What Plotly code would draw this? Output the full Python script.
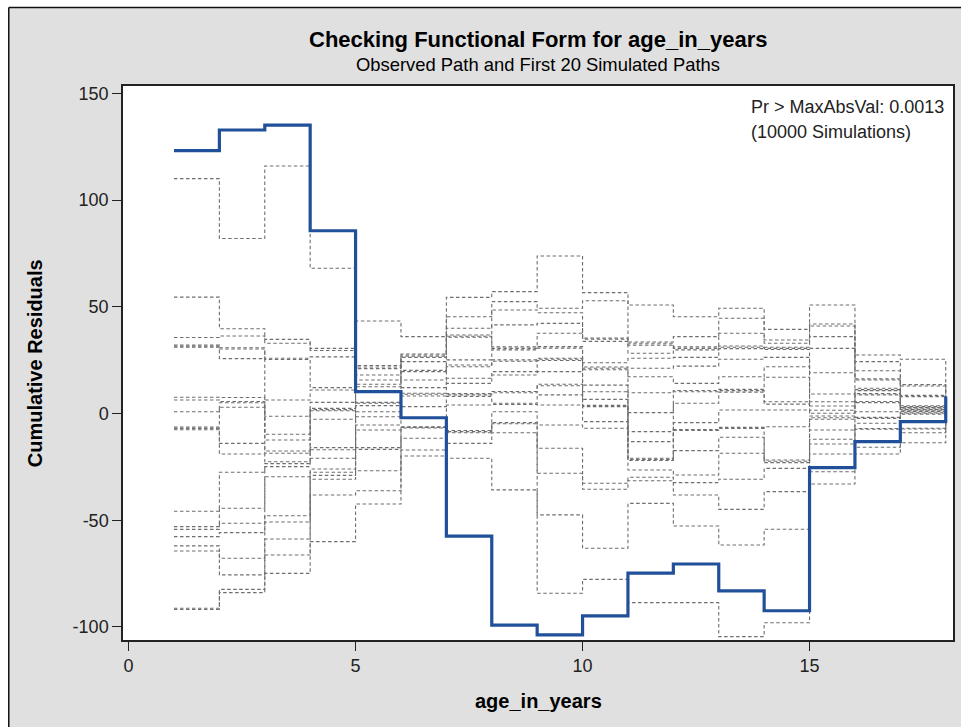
import plotly.graph_objects as go

# ---------------- data ----------------
ages = [1, 2, 3, 4, 5, 6, 7, 8, 9, 10, 11, 12, 13, 14, 15, 16, 17, 18]
observed_path = [123.1, 132.8, 135.1, 85.6, 10.2, -2.0, -57.4, -99.1, -103.7, -94.8,
                 -74.8, -70.5, -83.1, -92.4, -25.4, -13.2, -3.8, 7.9]

# levels of the 20 simulated paths at each age (highest to lowest)
sim_at_age_01 = [110, 54.5, 35.6, 32, 31.5, 31, 7.6, 6.3, 0.8, -6.4, -7, -7.6, -45.8, -53, -54.3, -57.7, -62, -64.4, -91.2, -91.8]
sim_at_age_02 = [82, 39.7, 36.3, 30.8, 30.2, 25.7, 7.5, 5.6, 5.0, 2.9, -14, -19, -27.5, -44.4, -51.4, -55.8, -67.8, -75.6, -82.4, -83.9]
sim_at_age_03 = [115.9, 34.7, 32.9, 25.9, 25.3, 6.3, -1.3, -9.7, -12.4, -17.6, -18.6, -22.6, -23.5, -24.9, -29.6, -47.9, -50.8, -58.8, -66.3, -74.9]
sim_at_age_04 = [68, 30.5, 29.5, 26.5, 12.1, 11, 5.2, 2.4, 1.8, 1.3, -2.7, -16, -17, -21, -26, -27.5, -29, -30.8, -38.2, -60]
sim_at_age_05 = [43.3, 22.5, 21.8, 21, 18, 15.7, 13.7, 12.5, 5.2, 4.8, 3.7, 0.8, -1.5, -5.4, -7.7, -16, -16.8, -26.8, -36.2, -42.4]
sim_at_age_06 = [36, 27.9, 27.4, 26.8, 26.3, 24.3, 20.2, 19.6, 15.7, 12.1, 9.5, 9.0, 8.2, 3.2, -6.2, -6.5, -6.8, -11.6, -17.1, -19.9]
sim_at_age_07 = [54.4, 45.3, 39.9, 36.8, 36.2, 35.7, 25.1, 22.7, 21.9, 16.5, 14.1, 9.3, 8.7, 8.0, 4, -8.0, -8.5, -9.0, -14, -21]
sim_at_age_08 = [57.1, 52.4, 48.5, 41.5, 31.2, 30.5, 29.8, 25.1, 24.5, 19.6, 18, 10.3, 9.7, 4.8, 4.2, 0.8, -4.3, -4.8, -9, -35.8]
sim_at_age_09 = [73.8, 49.3, 47.2, 42.2, 37.6, 31.3, 30.6, 25.9, 25.4, 24.8, 19.6, 13.7, 13, 8.7, 4, -5.4, -16.3, -28, -47.5, -84.2]
sim_at_age_10 = [56.6, 52.8, 35.3, 34.8, 33.8, 23.8, 21.8, 21.2, 20.5, 13.3, 10.2, 6.6, 3.8, 3.2, -3.8, -6.9, -32.7, -35.5, -63.1, -77.7]
sim_at_age_11 = [50.8, 33.5, 32.9, 32, 28.2, 25.9, 21.2, 17.2, 9.7, 0.4, -8.5, -13.2, -21, -21.5, -22, -26.5, -29.9, -31.5, -42.1, -88.6]
sim_at_age_12 = [45.3, 36, 31.2, 30.5, 29.8, 26.3, 22.2, 14.1, 10.8, 10.2, 4.8, -4.3, -7.5, -8, -17.4, -28.8, -32.4, -38.2, -52.7, -88.6]
sim_at_age_13 = [49.3, 44.6, 37.6, 31.6, 31, 30.4, 25.4, 17.2, 11.3, 10.7, 10, 1.6, -6.5, -7, -11.1, -18.6, -30.8, -44.9, -61.6, -104.5]
sim_at_age_14 = [39.4, 34.4, 32.9, 31, 30.5, 30, 26.3, 21.9, 17, 5.5, 4.4, 1.6, -6.2, -21.8, -22.4, -23, -25.7, -36.6, -54.2, -98]
sim_at_age_15 = [50.8, 41.9, 41, 36, 30.5, 19.1, 9.1, 5.5, 3.5, 1.5, 0.1, -1.2, -2.0, -2.7, -7.7, -12.1, -14.3, -19, -27.3, -33]
sim_at_age_16 = [27.4, 24.3, 20, 16.2, 15.7, 11.8, 11.2, 10.7, 9.3, 8.7, 5.6, 5.1, 0.8, -1.8, -2.3, -4.6, -7.0, -7.4, -15.8, -19]
sim_at_age_17 = [25.4, 13.5, 12.9, 8.5, 7.9, 3.6, 3.2, 2.8, 2.5, 2, 1.8, 1.5, 1, 0.6, 0.1, -0.3, -6.9, -7.3, -9, -13.7]
sim_at_age_18 = [9, 7, 6, 5, 5, 4, 4, 3, 3, 2, 2, 2, 1, 1, 0, 0, -1, -2, -3, -5]

x_ticks = [0, 5, 10, 15]
y_ticks = [-100, -50, 0, 50, 100, 150]

title_text = "Checking Functional Form for age_in_years"
subtitle_text = "Observed Path and First 20 Simulated Paths"
x_title = "age_in_years"
y_title = "Cumulative Residuals"
pvalue_line1 = "Pr > MaxAbsVal: 0.0013"
pvalue_line2 = "(10000 Simulations)"

# ---------------- figure ----------------
W, H = 961, 727
L, R, T, B = 123, 6, 86, 87
PW, PH = W - L - R, H - T - B


def px_x(px):
    return (px - L) / PW


def px_y(py):
    return (H - B - py) / PH


FONT = "Arial, 'Liberation Sans', Helvetica, sans-serif"

levels = [sim_at_age_01, sim_at_age_02, sim_at_age_03, sim_at_age_04, sim_at_age_05,
          sim_at_age_06, sim_at_age_07, sim_at_age_08, sim_at_age_09, sim_at_age_10,
          sim_at_age_11, sim_at_age_12, sim_at_age_13, sim_at_age_14, sim_at_age_15,
          sim_at_age_16, sim_at_age_17, sim_at_age_18]

fig = go.Figure()
for i in range(20):
    path = [lv[i] for lv in levels]
    fig.add_trace(go.Scatter(
        x=ages, y=path, mode="lines", line_shape="hv",
        line=dict(color="#6e6e6e", width=1.1, dash="3.5px,2.5px"),
        hoverinfo="skip", showlegend=False))

fig.add_trace(go.Scatter(
    x=ages, y=observed_path, mode="lines", line_shape="hv",
    line=dict(color="#21509a", width=3.2), showlegend=False, name="Observed"))

fig.update_layout(
    width=W, height=H,
    margin=dict(l=L, r=R, t=T, b=B, pad=0),
    paper_bgcolor="#e0e0e0", plot_bgcolor="white",
    font=dict(family=FONT, size=18, color="#222"),
    showlegend=False,
)

fig.update_xaxes(
    range=[-0.123, 18.16], tickvals=x_ticks, ticktext=[str(v) for v in x_ticks],
    ticks="outside", ticklen=9, tickwidth=1.3, tickcolor="#222",
    showline=True, linecolor="#222", linewidth=1.5, mirror=True,
    showgrid=False, zeroline=False,
    tickfont=dict(family=FONT, size=18, color="#222"),
)
fig.update_yaxes(
    range=[-106.1, 153.4], tickvals=y_ticks, ticktext=[str(v) for v in y_ticks],
    ticks="outside", ticklen=9, tickwidth=1.3, tickcolor="#222",
    showline=True, linecolor="#222", linewidth=1.5, mirror=True,
    showgrid=False, zeroline=False,
    tickfont=dict(family=FONT, size=18, color="#222"),
)

ann = [
    dict(text="<b>" + title_text + "</b>", x=0.5, y=px_y(40), xref="paper", yref="paper",
         xanchor="center", yanchor="middle", showarrow=False,
         font=dict(family=FONT, size=22, color="black")),
    dict(text=subtitle_text, x=0.5, y=px_y(65), xref="paper", yref="paper",
         xanchor="center", yanchor="middle", showarrow=False,
         font=dict(family=FONT, size=18.4, color="black")),
    dict(text="<b>" + x_title + "</b>", x=0.5, y=px_y(701), xref="paper", yref="paper",
         xanchor="center", yanchor="middle", showarrow=False,
         font=dict(family=FONT, size=20, color="black")),
    dict(text="<b>" + y_title + "</b>", x=px_x(35), y=0.5, xref="paper", yref="paper",
         xanchor="center", yanchor="middle", showarrow=False, textangle=-90,
         font=dict(family=FONT, size=20, color="black")),
    dict(text=pvalue_line1, x=px_x(751), y=px_y(107), xref="paper", yref="paper",
         xanchor="left", yanchor="middle", showarrow=False,
         font=dict(family=FONT, size=18, color="#222")),
    dict(text=pvalue_line2, x=px_x(751), y=px_y(132), xref="paper", yref="paper",
         xanchor="left", yanchor="middle", showarrow=False,
         font=dict(family=FONT, size=18, color="#222")),
]
fig.update_layout(annotations=ann)

# outer frame of the SAS graph window (white outside, black border line)
shapes = [
    dict(type="rect", xref="paper", yref="paper", x0=px_x(-5), x1=px_x(W + 5),
         y0=px_y(7), y1=px_y(-5), fillcolor="white", line=dict(width=0), layer="above"),
    dict(type="rect", xref="paper", yref="paper", x0=px_x(-5), x1=px_x(8),
         y0=px_y(H + 5), y1=px_y(-5), fillcolor="white", line=dict(width=0), layer="above"),
    dict(type="line", xref="paper", yref="paper", x0=px_x(8.5), x1=px_x(W + 5),
         y0=px_y(7.5), y1=px_y(7.5), line=dict(color="#111", width=1.5), layer="above"),
    dict(type="line", xref="paper", yref="paper", x0=px_x(8.5), x1=px_x(8.5),
         y0=px_y(7.5), y1=px_y(H + 5), line=dict(color="#111", width=1.5), layer="above"),
]
fig.update_layout(shapes=shapes)

fig.write_html("out.html")
